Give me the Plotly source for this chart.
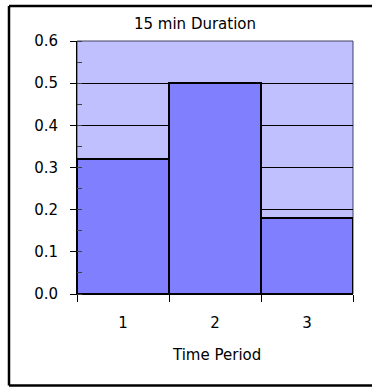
import plotly.graph_objects as go

# Share of observations in each time period (15 min duration)
periods = ["1", "2", "3"]
shares = [0.32, 0.50, 0.18]

y_ticks = [0.0, 0.1, 0.2, 0.3, 0.4, 0.5, 0.6]

W, H = 372, 388
L, R, T, B = 77, 19, 41, 94
pw, ph = W - L - R, H - T - B


def px_x(x):
    return (x - L) / pw


def px_y(y):
    return (H - B - y) / ph


FONT = "DejaVu Sans"

fig = go.Figure(
    go.Bar(
        x=periods,
        y=shares,
        width=1,
        marker=dict(color="#8080FF", line=dict(color="#000000", width=2)),
    )
)

fig.update_layout(
    width=W,
    height=H,
    margin=dict(l=L, r=R, t=T, b=B, pad=0),
    paper_bgcolor="#FFFFFF",
    plot_bgcolor="#C0C0FF",
    bargap=0,
    showlegend=False,
    font=dict(family=FONT, size=15, color="#000000"),
    title=dict(
        text="15 min Duration",
        x=195 / W,
        xanchor="center",
        xref="container",
        y=1 - 24 / H,
        yanchor="middle",
        yref="container",
        font=dict(family=FONT, size=15, color="#000000"),
    ),
)

fig.update_xaxes(
    type="category",
    range=[-0.5, 2.5],
    tickson="boundaries",
    ticks="outside",
    ticklen=7,
    tickcolor="#000000",
    tickwidth=1,
    showgrid=False,
    showline=True,
    linecolor="#000000",
    linewidth=1,
    tickfont=dict(family=FONT, size=15),
    ticklabelstandoff=15,
)

fig.update_yaxes(
    range=[0, 0.6],
    tickvals=y_ticks,
    ticktext=[f"{v:.1f}" for v in y_ticks],
    ticks="outside",
    ticklen=6,
    tickcolor="#000000",
    tickwidth=1,
    showgrid=True,
    gridcolor="#000000",
    gridwidth=1,
    zeroline=False,
    showline=True,
    linecolor="#000000",
    linewidth=1,
    tickfont=dict(family=FONT, size=15),
    ticklabelstandoff=9,
    minor=dict(
        dtick=0.05,
        tick0=0,
        ticks="inside",
        ticklen=5,
        tickcolor="#404040",
        showgrid=False,
    ),
)

# Plot-area border
fig.add_shape(
    type="rect", xref="paper", yref="paper",
    x0=0, x1=1, y0=0, y1=1,
    line=dict(color="#404060", width=1),
    layer="below",
)

# Outer chart frame: top, left and bottom edges (right edge runs off the page)
frame_left, frame_top, frame_bottom = 9, 6, 385.5
for x0, y0, x1, y1 in [
    (frame_left, frame_top, W, frame_top),
    (frame_left, frame_top, frame_left, frame_bottom),
    (frame_left, frame_bottom, W, frame_bottom),
]:
    fig.add_shape(
        type="line", xref="paper", yref="paper",
        x0=px_x(x0), y0=px_y(y0), x1=px_x(x1), y1=px_y(y1),
        line=dict(color="#000000", width=2.5),
    )

fig.add_annotation(
    text="Time Period",
    xref="paper", yref="paper",
    x=px_x(216), y=px_y(355),
    xanchor="center", yanchor="middle",
    showarrow=False,
    font=dict(family=FONT, size=15, color="#000000"),
)

fig.write_html("out.html")
